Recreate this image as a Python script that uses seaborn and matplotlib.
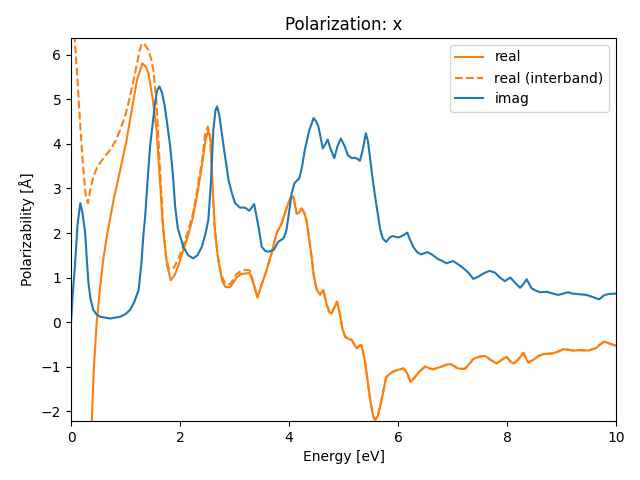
"""
Polarisasi arah x: bagian real, real (interband) dan imag dari polarizability.
Nilai dibaca dari grafik referensi.
"""

import numpy as np
import matplotlib
matplotlib.use("Agg")
import matplotlib.pyplot as plt
import seaborn as sns

# --- real (total) ---
REAL_E = [
    0.30, 0.38, 0.42, 0.47, 0.53, 0.59, 0.66, 0.72, 0.78, 0.90,
    1.02, 1.12, 1.21, 1.31, 1.38, 1.42, 1.50, 1.57, 1.63, 1.69,
    1.76, 1.83, 1.90, 1.98, 2.06, 2.15, 2.24, 2.32, 2.40, 2.47,
    2.52, 2.56, 2.60, 2.64, 2.70, 2.77, 2.83, 2.92, 3.04, 3.12,
    3.20, 3.28, 3.35, 3.42, 3.50, 3.59, 3.68, 3.77, 3.86, 3.96,
    4.03, 4.08, 4.14, 4.18, 4.23, 4.28, 4.32, 4.40, 4.46, 4.51,
    4.57, 4.63, 4.68, 4.74, 4.78, 4.84, 4.88, 4.93, 4.98, 5.03,
    5.10, 5.15, 5.24, 5.30, 5.33, 5.39, 5.44, 5.49, 5.54, 5.58,
    5.63, 5.67, 5.74, 5.78, 5.82, 5.90, 5.98, 6.10, 6.17, 6.23,
    6.28, 6.34, 6.42, 6.50, 6.58, 6.65, 6.72, 6.80, 6.88, 6.95,
    7.02, 7.08, 7.15, 7.23, 7.30, 7.38, 7.44, 7.52, 7.60, 7.70,
    7.81, 7.90, 7.99, 8.06, 8.12, 8.20, 8.30, 8.35, 8.39, 8.48,
    8.58, 8.67, 8.76, 8.85, 8.94, 9.03, 9.12, 9.22, 9.35, 9.49,
    9.57, 9.64, 9.71, 9.78, 9.88, 10.0,
]
REAL_P = [
    -4.50, -2.24, -1.00, -0.03, 0.75, 1.39, 1.95, 2.35, 2.74, 3.40,
    4.09, 4.80, 5.44, 5.81, 5.72, 5.59, 5.00, 4.31, 3.20, 2.07,
    1.30, 0.94, 1.05, 1.30, 1.62, 1.95, 2.37, 2.90, 3.50, 4.10,
    4.30, 4.10, 3.00, 2.07, 1.40, 0.94, 0.79, 0.78, 1.00, 1.08,
    1.09, 1.10, 0.85, 0.55, 0.85, 1.17, 1.55, 1.99, 2.20, 2.58,
    2.80, 2.82, 2.44, 2.45, 2.55, 2.45, 2.29, 1.60, 1.00, 0.72,
    0.62, 0.72, 0.45, 0.22, 0.19, 0.35, 0.46, 0.20, -0.15, -0.33,
    -0.38, -0.40, -0.59, -0.52, -0.52, -0.85, -1.30, -1.75, -2.10, -2.20,
    -2.10, -1.90, -1.50, -1.25, -1.19, -1.12, -1.08, -1.04, -1.15, -1.34,
    -1.28, -1.19, -1.08, -1.00, -1.04, -1.06, -1.03, -1.00, -0.96, -0.94,
    -0.98, -1.03, -1.05, -1.05, -0.95, -0.83, -0.80, -0.77, -0.76, -0.85,
    -0.93, -0.85, -0.78, -0.88, -0.93, -0.85, -0.69, -0.82, -0.91, -0.85,
    -0.76, -0.72, -0.71, -0.70, -0.66, -0.61, -0.62, -0.64, -0.63, -0.64,
    -0.61, -0.58, -0.50, -0.44, -0.48, -0.53,
]

# --- real (interband), bagian awal; setelah 3.5 eV sama dengan real ---
INTER_E_HEAD = [
    0.03, 0.07, 0.12, 0.17, 0.22, 0.27, 0.31, 0.35, 0.41, 0.47,
    0.53, 0.62, 0.72, 0.81, 0.90, 1.00, 1.08, 1.15, 1.21, 1.26,
    1.30, 1.36, 1.42, 1.47, 1.51, 1.57, 1.63, 1.69, 1.74, 1.79,
    1.85, 1.90, 1.98, 2.06, 2.15, 2.24, 2.32, 2.40, 2.46, 2.51,
    2.55, 2.59, 2.63, 2.69, 2.76, 2.83, 2.92, 3.04, 3.12, 3.20,
    3.28, 3.35, 3.42,
]
INTER_P_HEAD = [
    6.70, 6.34, 5.40, 4.40, 3.50, 2.85, 2.67, 2.95, 3.27, 3.45,
    3.57, 3.72, 3.87, 4.05, 4.31, 4.65, 5.06, 5.45, 5.81, 6.10,
    6.26, 6.22, 6.11, 5.90, 5.66, 4.90, 3.50, 2.20, 1.50, 1.21,
    1.18, 1.25, 1.45, 1.72, 2.05, 2.45, 3.00, 3.60, 4.20, 4.39,
    4.20, 3.20, 2.20, 1.50, 1.05, 0.86, 0.85, 1.08, 1.15, 1.17,
    1.16, 0.88, 0.56,
]
SHARED_FROM = REAL_E.index(3.50)
INTER_E = INTER_E_HEAD + REAL_E[SHARED_FROM:]
INTER_P = INTER_P_HEAD + REAL_P[SHARED_FROM:]

# --- imag ---
IMAG_E = [
    0.00, 0.03, 0.07, 0.12, 0.17, 0.21, 0.26, 0.29, 0.32, 0.36,
    0.41, 0.47, 0.53, 0.62, 0.72, 0.81, 0.90, 1.00, 1.08, 1.16,
    1.24, 1.29, 1.33, 1.36, 1.40, 1.45, 1.54, 1.58, 1.62, 1.67,
    1.72, 1.77, 1.82, 1.87, 1.91, 1.96, 2.06, 2.15, 2.24, 2.32,
    2.40, 2.47, 2.52, 2.57, 2.61, 2.65, 2.68, 2.72, 2.76, 2.80,
    2.89, 2.95, 3.01, 3.10, 3.19, 3.27, 3.32, 3.36, 3.40, 3.44,
    3.50, 3.56, 3.62, 3.72, 3.80, 3.90, 3.95, 3.99, 4.05, 4.10,
    4.19, 4.24, 4.29, 4.37, 4.45, 4.50, 4.54, 4.58, 4.62, 4.67,
    4.71, 4.76, 4.83, 4.89, 4.95, 5.02, 5.08, 5.15, 5.21, 5.26,
    5.30, 5.35, 5.41, 5.45, 5.49, 5.53, 5.57, 5.62, 5.67, 5.72,
    5.78, 5.85, 5.90, 6.01, 6.10, 6.17, 6.22, 6.28, 6.35,
    6.42, 6.54, 6.62, 6.74, 6.80, 6.89, 7.01, 7.10, 7.20, 7.30,
    7.38, 7.44, 7.50, 7.58, 7.68, 7.78, 7.87, 7.96, 8.06, 8.15,
    8.24, 8.30, 8.36, 8.41, 8.45, 8.52, 8.61, 8.73, 8.84, 8.94,
    9.03, 9.12, 9.20, 9.28, 9.46, 9.58, 9.69, 9.78, 9.86, 10.0,
]
IMAG_P = [
    0.00, 0.60, 1.24, 2.20, 2.67, 2.45, 1.99, 1.40, 0.87, 0.50,
    0.27, 0.17, 0.12, 0.10, 0.08, 0.10, 0.12, 0.18, 0.27, 0.45,
    0.72, 1.30, 1.99, 2.37, 3.10, 3.94, 4.91, 5.20, 5.29, 5.15,
    4.84, 4.40, 3.94, 3.30, 2.60, 2.10, 1.69, 1.50, 1.43, 1.50,
    1.69, 2.00, 2.30, 3.20, 4.31, 4.75, 4.84, 4.65, 4.30, 3.94,
    3.19, 2.90, 2.67, 2.57, 2.57, 2.50, 2.58, 2.65, 2.40, 2.14,
    1.69, 1.60, 1.58, 1.62, 1.80, 1.88, 2.05, 2.37, 2.90, 3.12,
    3.23, 3.50, 3.87, 4.30, 4.58, 4.50, 4.39, 4.15, 3.90, 4.00,
    4.10, 3.90, 3.68, 3.95, 4.12, 3.95, 3.75, 3.68, 3.69, 3.66,
    3.62, 3.85, 4.24, 4.05, 3.65, 3.25, 2.90, 2.50, 2.10, 1.88,
    1.80, 1.90, 1.93, 1.90, 1.95, 2.01, 1.85, 1.69, 1.57,
    1.52, 1.57, 1.52, 1.41, 1.38, 1.32, 1.37, 1.30, 1.21, 1.10,
    0.97, 1.00, 1.04, 1.10, 1.15, 1.11, 1.00, 0.92, 1.00, 0.88,
    0.77, 0.85, 0.96, 0.85, 0.76, 0.71, 0.67, 0.68, 0.64, 0.61,
    0.64, 0.67, 0.64, 0.63, 0.61, 0.56, 0.51, 0.60, 0.63, 0.64,
]


def main():
    fig, ax = plt.subplots(figsize=(6.4, 4.8), dpi=100)

    sns.lineplot(x=REAL_E, y=REAL_P, sort=False, color="C1",
                 label="real", ax=ax)
    sns.lineplot(x=INTER_E, y=INTER_P, sort=False, color="C1",
                 linestyle="--", label="real (interband)", ax=ax)
    sns.lineplot(x=IMAG_E, y=IMAG_P, sort=False, color="C0",
                 label="imag", ax=ax)

    ax.set_xlim(0, 10)
    ax.set_ylim(-2.22, 6.38)
    ax.set_xlabel("Energy [eV]")
    ax.set_ylabel("Polarizability [Å]")
    ax.set_title("Polarization: x")
    ax.legend(loc="upper right")

    fig.subplots_adjust(left=0.111, right=0.9625, top=0.921, bottom=0.123)
    fig.savefig("out.png", dpi=100)
    plt.close(fig)


if __name__ == "__main__":
    main()
